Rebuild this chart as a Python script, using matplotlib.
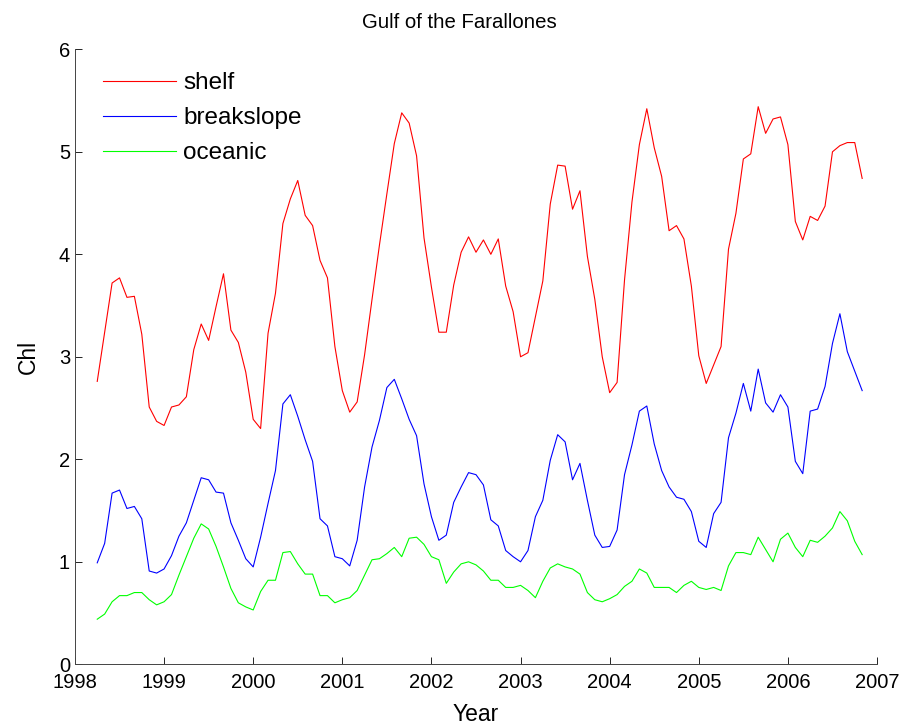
import numpy as np
import matplotlib
matplotlib.use("Agg")
from matplotlib import pyplot as plt

# monthly means, Apr 1998 .. Nov 2006
start_year = 1998.25
shelf = [2.76, 3.24, 3.72, 3.77, 3.58, 3.59, 3.22, 2.51, 2.37, 2.33, 2.51, 2.53,
         2.61, 3.07, 3.32, 3.16, 3.49, 3.81, 3.26, 3.14, 2.85, 2.39, 2.30, 3.23,
         3.62, 4.30, 4.54, 4.72, 4.38, 4.28, 3.94, 3.77, 3.10, 2.67, 2.46, 2.56,
         3.02, 3.56, 4.09, 4.59, 5.08, 5.38, 5.28, 4.96, 4.16, 3.68, 3.24, 3.24,
         3.70, 4.02, 4.17, 4.02, 4.14, 4.00, 4.15, 3.69, 3.44, 3.00, 3.04, 3.39,
         3.74, 4.49, 4.87, 4.86, 4.44, 4.62, 3.98, 3.56, 3.00, 2.65, 2.75, 3.75,
         4.51, 5.07, 5.42, 5.04, 4.76, 4.23, 4.28, 4.15, 3.69, 3.01, 2.74, 2.92,
         3.10, 4.05, 4.40, 4.93, 4.98, 5.44, 5.18, 5.32, 5.34, 5.07, 4.32, 4.14,
         4.37, 4.33, 4.47, 5.00, 5.06, 5.09, 5.09, 4.74]
breakslope = [0.99, 1.18, 1.67, 1.70, 1.52, 1.54, 1.42, 0.91, 0.89, 0.93, 1.06, 1.25,
              1.38, 1.60, 1.82, 1.80, 1.68, 1.67, 1.38, 1.21, 1.03, 0.95, 1.24, 1.57,
              1.89, 2.54, 2.63, 2.42, 2.19, 1.98, 1.42, 1.35, 1.05, 1.03, 0.96, 1.21,
              1.73, 2.12, 2.38, 2.70, 2.78, 2.59, 2.39, 2.23, 1.76, 1.44, 1.21, 1.26,
              1.58, 1.73, 1.87, 1.85, 1.75, 1.41, 1.35, 1.11, 1.05, 1.00, 1.11, 1.44,
              1.60, 1.99, 2.24, 2.17, 1.80, 1.96, 1.60, 1.26, 1.14, 1.15, 1.31, 1.85,
              2.14, 2.47, 2.52, 2.15, 1.89, 1.73, 1.63, 1.61, 1.49, 1.20, 1.14, 1.47,
              1.58, 2.21, 2.45, 2.74, 2.47, 2.88, 2.55, 2.46, 2.63, 2.51, 1.98, 1.86,
              2.47, 2.49, 2.71, 3.13, 3.42, 3.05, 2.86, 2.67]
oceanic = [0.44, 0.49, 0.61, 0.67, 0.67, 0.70, 0.70, 0.63, 0.58, 0.61, 0.68, 0.87,
           1.05, 1.23, 1.37, 1.32, 1.15, 0.95, 0.74, 0.60, 0.56, 0.53, 0.71, 0.82,
           0.82, 1.09, 1.10, 0.98, 0.88, 0.88, 0.67, 0.67, 0.60, 0.63, 0.65, 0.72,
           0.87, 1.02, 1.03, 1.08, 1.14, 1.05, 1.23, 1.24, 1.17, 1.05, 1.02, 0.79,
           0.90, 0.98, 1.00, 0.97, 0.91, 0.82, 0.82, 0.75, 0.75, 0.77, 0.72, 0.65,
           0.81, 0.94, 0.98, 0.95, 0.93, 0.88, 0.70, 0.63, 0.61, 0.64, 0.68, 0.76,
           0.81, 0.93, 0.89, 0.75, 0.75, 0.75, 0.70, 0.77, 0.81, 0.75, 0.73, 0.75,
           0.72, 0.96, 1.09, 1.09, 1.07, 1.24, 1.12, 1.00, 1.22, 1.28, 1.14, 1.05,
           1.21, 1.19, 1.25, 1.33, 1.49, 1.40, 1.20, 1.07]
year_ticks = list(range(1998, 2008))
chl_ticks = [0, 1, 2, 3, 4, 5, 6]

t = start_year + np.arange(len(shelf)) / 12.0

plt.rcParams['font.family'] = ['Liberation Sans', 'DejaVu Sans']

fig = plt.figure(figsize=(9.13, 7.28), dpi=100)
ax = fig.add_axes([0.0821, 0.0875, 0.8785, 0.8448])

ax.plot(t, shelf, color='#ff0000', lw=0.8, label='shelf')
ax.plot(t, breakslope, color='#0000ff', lw=0.8, label='breakslope')
ax.plot(t, oceanic, color='#00ff00', lw=0.8, label='oceanic')

ax.set_xlim(1998, 2007)
ax.set_ylim(0, 6)
ax.set_xticks(year_ticks)
ax.set_yticks(chl_ticks)
ax.tick_params(direction='in', length=5, width=0.6, labelsize=14.5)
ax.tick_params(axis='x', pad=6)
for side in ['top', 'right']:
    ax.spines[side].set_visible(False)
for side in ['left', 'bottom']:
    ax.spines[side].set_linewidth(0.7)
    ax.spines[side].set_color('#444444')

ax.set_title('Gulf of the Farallones', fontsize=14.7, pad=15, x=0.479)
ax.set_xlabel('Year', fontsize=16.5, labelpad=8)
ax.set_ylabel('Chl', fontsize=16.5, labelpad=14)

ax.legend(loc='upper left', bbox_to_anchor=(0.035, 0.9625), frameon=False,
          fontsize=17.5, handlelength=3.0, handletextpad=0.3, labelspacing=0.53,
          borderaxespad=0, borderpad=0)

fig.savefig('out.png', dpi=100)
